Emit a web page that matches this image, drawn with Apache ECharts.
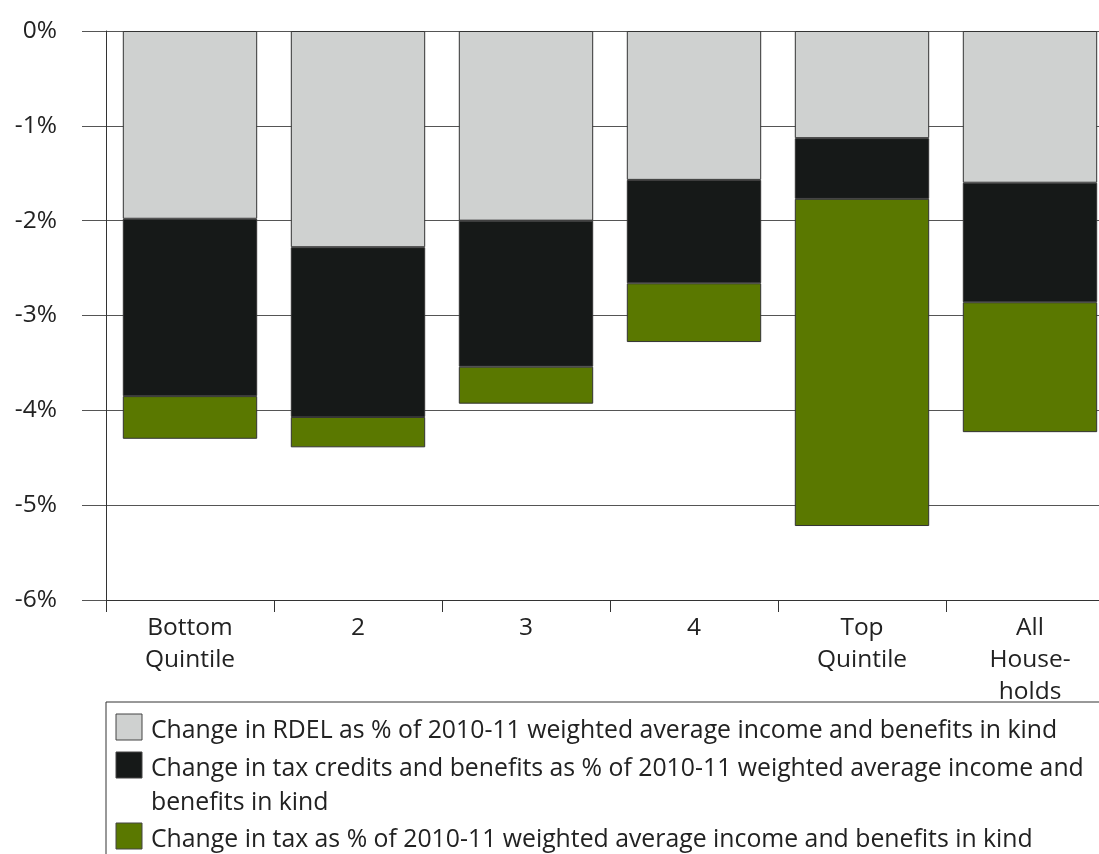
<!DOCTYPE html>
<html>
<head>
<meta charset="utf-8">
<script src="https://cdn.jsdelivr.net/npm/echarts@6/dist/echarts.min.js"></script>
<style>
html,body{margin:0;padding:0;background:#fff;}
#chart{width:1099px;height:854px;}
</style>
</head>
<body>
<div id="chart"></div>
<script>
const categories = ['Bottom\nQuintile', '2', '3', '4', 'Top\nQuintile', 'All\nHouse-\nholds'];
const seriesNames = [
  'Change in RDEL as % of 2010-11 weighted average income and benefits in kind',
  'Change in tax credits and benefits as % of 2010-11 weighted average income and\nbenefits in kind',
  'Change in tax as % of 2010-11 weighted average income and benefits in kind'
];
const rdel = [-1.98, -2.28, -2.00, -1.57, -1.13, -1.60];
const taxCredits = [-1.87, -1.79, -1.54, -1.09, -0.64, -1.26];
const tax = [-0.45, -0.32, -0.39, -0.62, -3.45, -1.37];
const yTicks = [0, -1, -2, -3, -4, -5, -6];

const colors = ['#cfd1d0', '#161918', '#5a7800'];
const FONT = '"Open Sans", "Noto Sans", sans-serif';
const FS = 24.5;
const LFS = 24.8;

const chart = echarts.init(document.getElementById('chart'), null, {renderer: 'canvas'});

function mk(name, data, color) {
  return {
    name: name, type: 'bar', stack: 'total', data: data,
    barCategoryGap: '20%',
    itemStyle: {color: color, borderColor: '#333', borderWidth: 1},
    emphasis: {disabled: true}
  };
}

const legendItems = [];
const legendY = [714, 752, 823];
seriesNames.forEach((n, i) => {
  legendItems.push({
    type: 'rect', shape: {x: 116, y: legendY[i], width: 26, height: 26},
    style: {fill: colors[i], stroke: '#444', lineWidth: 1}
  });
  legendItems.push({
    type: 'text', x: 151, y: legendY[i] + 0,
    style: {text: n, font: LFS + 'px ' + FONT, fill: '#222', lineHeight: 34, textVerticalAlign: 'top'}
  });
});

chart.setOption({
  animation: false,
  backgroundColor: '#fff',
  grid: {left: 106, width: 1008, top: 31, bottom: 254, containLabel: false, outerBoundsMode: 'none'},
  xAxis: {
    type: 'category', data: categories, position: 'bottom',
    axisLine: {show: true, onZero: false, lineStyle: {color: '#333', width: 1}},
    axisTick: {show: true, alignWithLabel: false, length: 12, lineStyle: {color: '#333', width: 1}},
    axisLabel: {fontFamily: FONT, fontSize: FS, color: '#222', lineHeight: 32, margin: 12, interval: 0},
    splitLine: {show: false}
  },
  yAxis: {
    type: 'value', min: -6, max: 0, interval: 1,
    axisLine: {show: true, lineStyle: {color: '#333', width: 1}},
    axisTick: {show: true, length: 24, lineStyle: {color: '#555', width: 1}},
    axisLabel: {fontFamily: FONT, fontSize: FS, color: '#222', margin: 49,
      formatter: v => (yTicks.indexOf(v) >= 0 ? v + '%' : '')},
    splitLine: {show: true, lineStyle: {color: '#555', width: 1}}
  },
  series: [
    mk(seriesNames[0], rdel, colors[0]),
    mk(seriesNames[1], taxCredits, colors[1]),
    mk(seriesNames[2], tax, colors[2])
  ],
  graphic: [
    {type: 'rect', shape: {x: 106, y: 702, width: 1100, height: 200},
     style: {fill: 'none', stroke: '#333', lineWidth: 1}, z: 0},
    {type: 'group', children: legendItems, z: 1}
  ]
});
</script>
</body>
</html>
